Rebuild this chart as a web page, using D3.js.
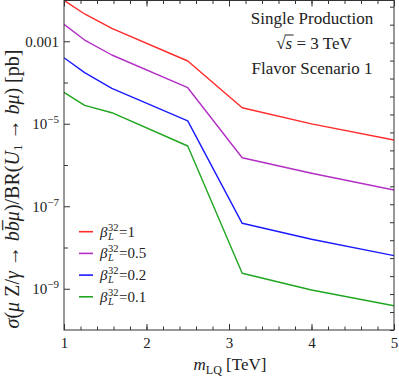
<!DOCTYPE html>
<html><head><meta charset="utf-8">
<script src="https://cdn.jsdelivr.net/npm/d3@7"></script>
<style>
body{margin:0;background:#fff}
svg{display:block}
svg text{font-family:"Liberation Serif","Times New Roman",serif !important;fill:#222}
</style>
</head><body>
<svg id="chart" width="399" height="378" font-family="Liberation Serif"></svg>
<script>
// ---- data ----
const mass = [1, 1.25, 1.58, 2.5, 3.16, 4, 5];
const beta1  = [9.8e-3, 4.58e-3, 2.06e-3, 3.32e-4, 2.45e-5, 9.9e-6, 4.04e-6];
const beta05 = [2.58e-3, 1.07e-3, 4.64e-4, 7.48e-5, 1.50e-6, 6.3e-7, 2.48e-7];
const beta02 = [3.99e-4, 1.73e-4, 7.23e-5, 1.17e-5, 3.86e-8, 1.58e-8, 6.34e-9];
const beta01 = [5.78e-5, 2.80e-5, 1.85e-5, 2.89e-6, 2.37e-9, 9.33e-10, 3.88e-10];
const seriesNames = ["1", "0.5", "0.2", "0.1"];
const seriesColors = ["#ff2a2a", "#b22ec4", "#1a1aff", "#1fa51f"];
const xTicks = [1, 2, 3, 4, 5];
const xMinorTicks = d3.range(1, 5.001, 0.2);
const yTickExps = [-3, -4, -5, -6, -7, -8, -9];
const yLabelExps = [-3, -5, -7, -9];
const annotation = ["Single Production", "= 3 TeV", "Flavor Scenario 1"];

const series = [beta1, beta05, beta02, beta01];
const FONT = "Liberation Serif";

const svg = d3.select("#chart");
const L = 64, R = 394, T = 0.5, B = 330;
const x = d3.scaleLinear().domain([1, 5]).range([L, R]);
const y = d3.scaleLog().domain([1e-10, 1e-2]).range([B, 0]);
const yRight = d3.scaleLinear().domain([0, 18]).range([B, 6.7]);

svg.append("clipPath").attr("id", "clip").append("rect")
  .attr("x", L).attr("y", 0).attr("width", R - L).attr("height", B);

// lines
const line = d3.line().x((d, i) => x(mass[i])).y(d => y(d));
const g = svg.append("g").attr("clip-path", "url(#clip)");
series.forEach((s, k) => {
  g.append("path").datum(s).attr("d", line)
    .attr("fill", "none").attr("stroke", seriesColors[k])
    .attr("stroke-width", 1.4).attr("stroke-linejoin", "round");
});

const axisColor = "#333";
function style(sel) {
  sel.attr("font-family", FONT);
  sel.select(".domain").remove();
  sel.selectAll(".tick line").attr("stroke", axisColor);
  sel.selectAll(".tick text").attr("fill", "#222").style("font-family", FONT).attr("font-size", 15);
}

// bottom axis
svg.append("g").attr("transform", `translate(0,${B})`)
  .call(d3.axisBottom(x).tickValues(xMinorTicks).tickSize(-3.5).tickFormat(""))
  .call(style);
svg.append("g").attr("transform", `translate(0,${B})`)
  .call(d3.axisBottom(x).tickValues(xTicks).tickSize(-6).tickPadding(7).tickFormat(d3.format("d")))
  .call(style);
// top axis
svg.append("g").attr("transform", `translate(0,${T})`)
  .call(d3.axisTop(x).tickValues(xMinorTicks).tickSize(-3.5).tickFormat(""))
  .call(style);
svg.append("g").attr("transform", `translate(0,${T})`)
  .call(d3.axisTop(x).tickValues(xTicks).tickSize(-6).tickFormat(""))
  .call(style);

// left axis
svg.append("g").attr("transform", `translate(${L},0)`)
  .call(d3.axisLeft(y).tickValues(yTickExps.filter(e => !yLabelExps.includes(e)).map(e => Math.pow(10, e))).tickSize(-4).tickFormat(""))
  .call(style);
const yl = svg.append("g").attr("transform", `translate(${L},0)`)
  .call(d3.axisLeft(y).tickValues(yLabelExps.map(e => Math.pow(10, e))).tickSize(-6).tickPadding(5).tickFormat(""))
  .call(style);
yl.selectAll(".tick").each(function(d) {
  const e = Math.round(Math.log10(d));
  const t = d3.select(this).append("text").attr("x", -5).attr("dy", "0.32em")
    .attr("text-anchor", "end").attr("font-size", 15).attr("fill", "#222").style("font-family", FONT);
  if (e === -3) { t.text("0.001"); }
  else {
    t.append("tspan").text("10");
    t.append("tspan").attr("dy", -6).attr("font-size", 11).text("\u2212" + (-e));
  }
});
// right axis
svg.append("g").attr("transform", `translate(${R},0)`)
  .call(d3.axisRight(yRight).tickValues(d3.range(0, 19)).tickSize(-4).tickFormat(""))
  .call(style);

// frame
svg.append("rect").attr("x", L).attr("y", T).attr("width", R - L).attr("height", B - T)
  .attr("fill", "none").attr("stroke", axisColor).attr("stroke-width", 1);

// annotation
const ax = 312;
svg.append("text").attr("x", ax).attr("y", 24).attr("text-anchor", "middle").attr("font-size", 17).text(annotation[0]);
const t2 = svg.append("text").attr("x", ax + 2).attr("y", 48.5).attr("text-anchor", "middle").attr("font-size", 17);
t2.append("tspan").text("\u221A");
const sSpan = t2.append("tspan").attr("font-style", "italic").text("s");
t2.append("tspan").text(" " + annotation[1]);
{
  const bb = sSpan.node().getBBox();
  const rootBox = t2.node().getBBox();
  svg.append("line").attr("x1", bb.x - 1).attr("x2", bb.x + bb.width + 1)
    .attr("y1", rootBox.y + 1.5).attr("y2", rootBox.y + 1.5)
    .attr("stroke", "#222").attr("stroke-width", 1);
}
svg.append("text").attr("x", ax).attr("y", 74).attr("text-anchor", "middle").attr("font-size", 17).text(annotation[2]);

// legend (single text element per entry, stacked sub/superscript)
const tmp = svg.append("text").attr("font-size", 10.5).attr("font-style", "italic").text("L");
const wL = tmp.node().getComputedTextLength();
tmp.attr("font-style", null).text("32");
const w32 = tmp.node().getComputedTextLength();
tmp.remove();
seriesNames.forEach((name, k) => {
  const ly = 231.7 + k * 21.7;
  svg.append("line").attr("x1", 79).attr("x2", 93).attr("y1", ly).attr("y2", ly)
    .attr("stroke", seriesColors[k]).attr("stroke-width", 1.6);
  const t = svg.append("text").attr("x", 100).attr("y", ly + 5).attr("font-size", 15);
  t.append("tspan").attr("font-style", "italic").text("\u03B2");
  t.append("tspan").attr("dx", 0.5).attr("dy", 3).attr("font-size", 10.5).attr("font-style", "italic").text("L");
  t.append("tspan").attr("dx", -wL).attr("dy", -9).attr("font-size", 10.5).text("32");
  t.append("tspan").attr("dx", 0.5 + Math.max(0, wL - w32)).attr("dy", 6).text("=" + name);
});

// x axis title
const xt = svg.append("text").attr("x", 230).attr("y", 370).attr("text-anchor", "middle").attr("font-size", 17);
xt.append("tspan").attr("font-style", "italic").text("m");
xt.append("tspan").attr("dy", 4).attr("font-size", 12).text("LQ");
xt.append("tspan").attr("dy", -4).text(" [TeV]");

// y axis title
const yt = svg.append("text").attr("transform", "translate(19,189) rotate(-90)")
  .attr("text-anchor", "middle").attr("font-size", 20);
const it = s => yt.append("tspan").attr("font-style", "italic").text(s);
const rm = s => yt.append("tspan").text(s);
it("\u03C3"); rm("("); it("\u03BC"); rm(" Z/"); it("\u03B3"); rm(" \u2192 "); it("b"); it("b\u0305"); it("\u03BC");
rm(")/BR("); it("U"); yt.append("tspan").attr("dy", 3).attr("font-size", 13).text("1");
yt.append("tspan").attr("dy", -3).text(" \u2192 "); it("b"); it("\u03BC"); rm(") [pb]");
</script>
</body></html>
